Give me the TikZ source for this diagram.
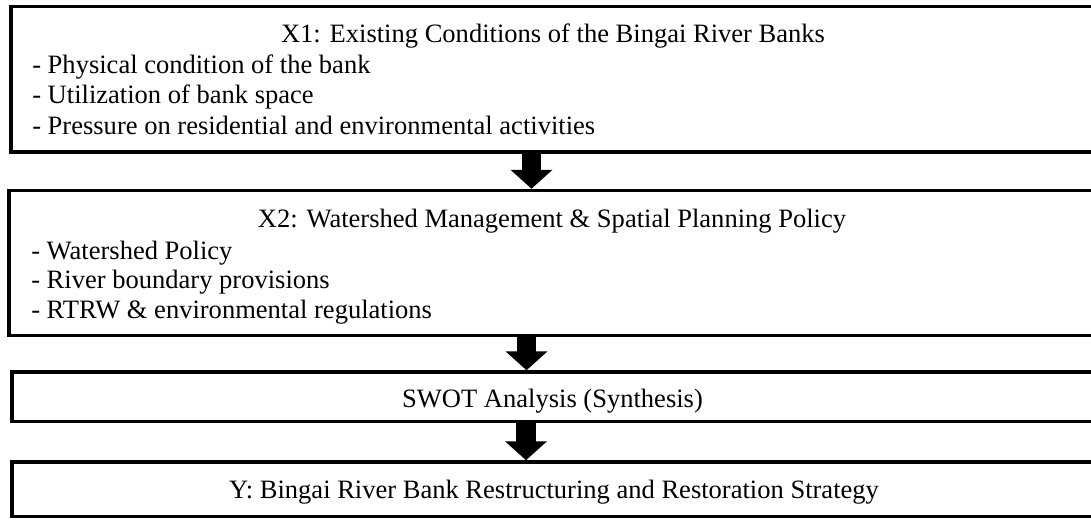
\documentclass[tikz,border=0pt]{standalone}
\usepackage{fontspec}
\setmainfont{Liberation Serif}
\usetikzlibrary{arrows.meta}
\begin{document}
\begin{tikzpicture}[x=0.75pt,y=-0.75pt,
  box/.style={draw, line width=2.6pt, rectangle, inner sep=0pt},
  txt/.style={font=\fontsize{19.9pt}{23pt}\selectfont, inner sep=0pt},
  bigarrow/.style={line width=14.6pt, -{Triangle[width=30.75pt,length=14.25pt]}}]
\useasboundingbox (0,0) rectangle (1091,520);
\clip (0,0) rectangle (1091,520);
% boxes
\node[box, minimum width=814.5pt, minimum height=109.1pt] (b1) at (554,79.25) {};
\node[box, minimum width=816pt, minimum height=108.75pt] (b2) at (553,263) {};
\node[box, minimum width=813.75pt, minimum height=37.1pt] (b3) at (554.5,396.75) {};
\node[box, minimum width=813.75pt, minimum height=40.9pt] (b4) at (554.5,489.25) {};
% texts box 1
\node[txt, anchor=base] (t1) at (553,42.7) {X1: Existing Conditions of the Bingai River Banks};
\node[txt, anchor=base west] (t1a) at (32,73.3) {- Physical condition of the bank};
\node[txt, anchor=base west] (t1b) at (32,104) {- Utilization of bank space};
\node[txt, anchor=base west] (t1c) at (32,134.5) {- Pressure on residential and environmental activities};
% texts box 2
\node[txt, anchor=base] (t2) at (552,227.3) {X2: Watershed Management \& Spatial Planning Policy};
\node[txt, anchor=base west] (t2a) at (31,259) {- Watershed Policy};
\node[txt, anchor=base west] (t2b) at (31,288.5) {- River boundary provisions};
\node[txt, anchor=base west] (t2c) at (31,318.5) {- RTRW \& environmental regulations};
% box 3 and 4
\node[txt, anchor=base] (t3) at (552.5,407.7) {SWOT Analysis (Synthesis)};
\node[txt, anchor=base] (t4) at (554,498) {Y: Bingai River Bank Restructuring and Restoration Strategy};
% arrows
\coordinate (a1) at (531.5,0);
\coordinate (a2) at (526.5,0);
\coordinate (a3) at (526,0);
\draw[bigarrow] (b1.south -| a1) -- (b2.north -| a1);
\draw[bigarrow] (b2.south -| a2) -- (b3.north -| a2);
\draw[bigarrow] (b3.south -| a3) -- (b4.north -| a3);
\end{tikzpicture}
\end{document}
